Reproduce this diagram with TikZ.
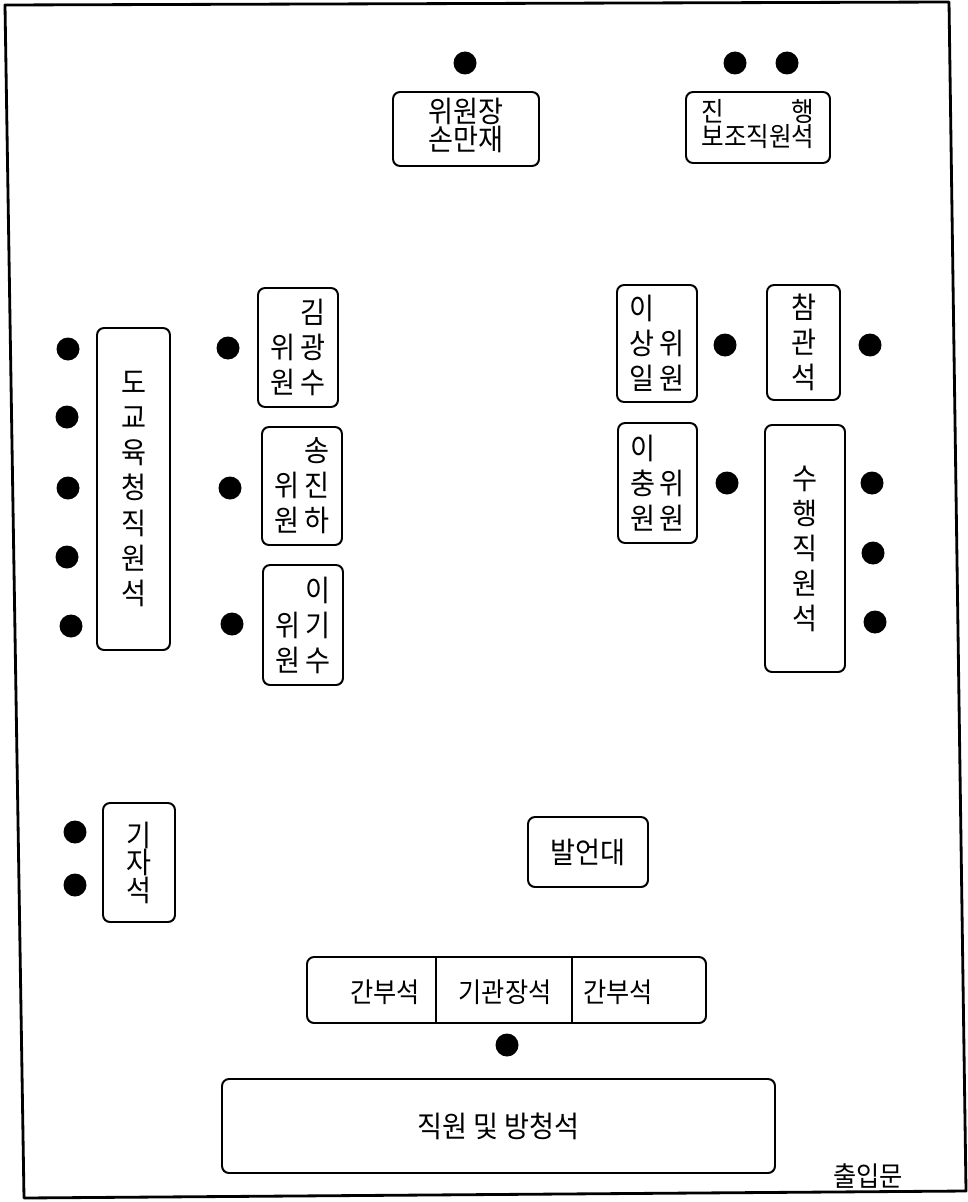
\documentclass[tikz,border=0pt]{standalone}
\usepackage{fontspec}
\usepackage{calc}
\newfontfamily\kr[FakeStretch=0.92]{Noto Sans CJK KR}
\usetikzlibrary{calc}
\newcommand\pxu{0.025cm}
\newcommand\cg{\kern3pt}
\begin{document}
\begin{tikzpicture}[x=0.025cm,y=-0.025cm,
  room/.style={line width=2pt, line join=round},
  seatbox/.style={draw, line width=1.4pt, rounded corners=5pt, inner sep=0pt, align=center,
    font={\kr\fontsize{21pt}{24.9pt}\selectfont}},
  tight/.style={font={\kr\fontsize{21pt}{17.6pt}\selectfont}, text depth=9*\pxu},
  label/.style={inner sep=0pt, font={\kr\fontsize{19.5pt}{20pt}\selectfont}},
  seat/.style={circle, fill=black, draw=none, inner sep=0pt, minimum size=23*\pxu}]
\useasboundingbox (0,0) rectangle (967,1202);
\fill[white] (0,0) rectangle (967,1202);
% room outline
\draw[room] (5,5) -- (949,2) -- (966,1191) -- (24,1198) -- cycle;

% top row
\node[seatbox, tight, minimum width=146*\pxu, minimum height=74*\pxu] (chair) at (466,129) {위원장\\손만재};
\node[seatbox, tight, font={\kr\fontsize{19pt}{17.6pt}\selectfont}, minimum width=144*\pxu, minimum height=71*\pxu] (assist) at (758,127.5) {\makebox[\widthof{보조직원석}][s]{진\hfill 행}\\보조직원석};
\node[seat] (d1) at (465,63) {};
\node[seat] (d2) at (735,63) {};
\node[seat] (d3) at (787,63) {};

% left side
\node[seatbox, minimum width=73*\pxu, minimum height=322*\pxu] (edu) at (133.5,489) {도\\교\\육\\청\\직\\원\\석};
\node[seat] (l1) at (68,349) {};
\node[seat] (l2) at (67,417) {};
\node[seat] (l3) at (68,488) {};
\node[seat] (l4) at (67,557) {};
\node[seat] (l5) at (71,626) {};

\node[seatbox, align=right, minimum width=80*\pxu, minimum height=119*\pxu] (kim) at (298,347.5) {김\\위\cg 광\\원\cg 수};
\node[seatbox, align=right, minimum width=80*\pxu, minimum height=118*\pxu] (song) at (302,486) {송\\위\cg 진\\원\cg 하};
\node[seatbox, align=right, minimum width=80*\pxu, minimum height=120*\pxu] (leeg) at (303,625) {이\\위\cg 기\\원\cg 수};
\node[seat] (m1) at (228,348) {};
\node[seat] (m2) at (230,488) {};
\node[seat] (m3) at (232,624) {};

% right side
\node[seatbox, align=left, minimum width=80*\pxu, minimum height=117*\pxu] (leesi) at (657,343.5) {이\\상\cg 위\\일\cg 원};
\node[seatbox, align=left, minimum width=79*\pxu, minimum height=120*\pxu] (leecw) at (657.5,483) {이\\충\cg 위\\원\cg 원};
\node[seatbox, minimum width=73*\pxu, minimum height=115*\pxu] (obs) at (803.5,342.5) {참\\관\\석};
\node[seatbox, minimum width=80*\pxu, minimum height=247*\pxu] (staff) at (805,548.5) {수\\행\\직\\원\\석};
\node[seat] (r1) at (725,345) {};
\node[seat] (r2) at (870,345) {};
\node[seat] (r3) at (727,483) {};
\node[seat] (r4) at (872,483) {};
\node[seat] (r5) at (873,553) {};
\node[seat] (r6) at (875,622) {};

% press
\node[seatbox, font={\kr\fontsize{21pt}{19.6pt}\selectfont}, minimum width=72*\pxu, minimum height=119*\pxu] (press) at (139,862.5) {기\\자\\석};
\node[seat] (p1) at (75,832) {};
\node[seat] (p2) at (75,885) {};

% podium
\node[seatbox, minimum width=120*\pxu, minimum height=70*\pxu] (podium) at (588,852) {발언대};

% head table
\node[seatbox, minimum width=399*\pxu, minimum height=66*\pxu] (head) at (506.5,990) {};
\draw[line width=1.4pt] ($(head.north west)+(130,0)$) -- ($(head.south west)+(130,0)$);
\draw[line width=1.4pt] ($(head.north west)+(266,0)$) -- ($(head.south west)+(266,0)$);
\node[label] (h1) at (385,992) {간부석};
\node[label] (h2) at (505,992) {기관장석};
\node[label] (h3) at (618,992) {간부석};
\node[seat] (hd) at (507,1045) {};

% audience
\node[seatbox, minimum width=553*\pxu, minimum height=94*\pxu] (aud) at (498.5,1126) {직원 및 방청석};
\node[label] (door) at (868,1176) {출입문};
\end{tikzpicture}
\end{document}
